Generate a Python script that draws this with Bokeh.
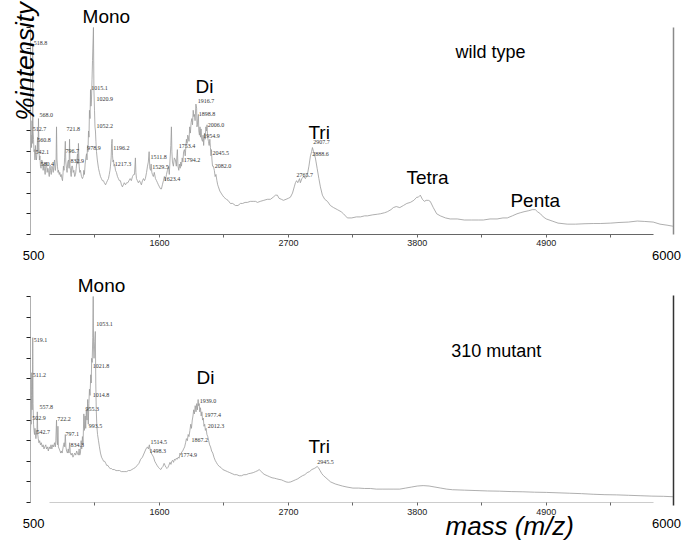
from bokeh.plotting import figure
from bokeh.models import Range1d, LinearAxis, FixedTicker, Label, LabelSet, ColumnDataSource
from bokeh.layouts import column
from bokeh.embed import file_html
from bokeh.resources import INLINE
import math

# ---------------- data: wild type ----------------
wt_mass = [500, 504, 509, 513, 516, 518.8, 522, 526, 530, 534, 538, 542, 546, 551, 556, 560, 564, 568, 572, 576,
           580, 585, 590, 596, 602, 608, 614, 619, 625, 630, 636, 642, 648, 653, 660, 666, 671, 677, 683, 688,
           694, 700, 705, 710, 713, 718, 722, 726, 730, 735, 739, 745, 750, 756, 762, 768, 773, 778, 781, 786,
           791, 797, 801, 807, 812, 818, 824, 829, 833, 837, 841, 847, 852, 858, 864, 870, 877, 884, 890, 896,
           901, 905, 909, 915, 920, 926, 935, 943, 950, 955, 960, 966, 972, 978, 982, 986, 990, 995, 999, 1003,
           1008, 1012, 1016, 1020, 1025, 1029, 1033, 1037, 1041, 1046, 1050, 1054, 1058, 1063, 1070, 1080, 1088, 1097, 1105, 1113,
           1122, 1130, 1140, 1148, 1156, 1165, 1172, 1178, 1182, 1188, 1192, 1196, 1200, 1204, 1208, 1213, 1217, 1225, 1233, 1242,
           1250, 1258, 1267, 1276, 1284, 1292, 1300, 1310, 1320, 1330, 1340, 1350, 1360, 1370, 1380, 1387, 1392, 1395, 1399, 1404,
           1412, 1420, 1430, 1438, 1446, 1455, 1464, 1472, 1480, 1490, 1498, 1505, 1512, 1518, 1524, 1529, 1535, 1540, 1548, 1556,
           1566, 1575, 1583, 1591, 1600, 1610, 1617, 1625, 1634, 1642, 1650, 1660, 1668, 1677, 1684, 1690, 1697, 1702, 1706, 1711,
           1719, 1727, 1736, 1744, 1749, 1753, 1758, 1765, 1770, 1777, 1782, 1788, 1794, 1800, 1806, 1813, 1820, 1826, 1830, 1836,
           1841, 1847, 1852, 1858, 1864, 1870, 1876, 1882, 1888, 1893, 1898, 1904, 1911, 1917, 1920, 1924, 1928, 1932, 1936, 1941,
           1946, 1950, 1955, 1960, 1967, 1972, 1977, 1984, 1990, 1996, 2001, 2006, 2011, 2018, 2024, 2030, 2035, 2040, 2043, 2048,
           2053, 2060, 2068, 2075, 2082, 2090, 2097, 2103, 2115, 2126, 2137, 2150, 2160, 2171, 2185, 2205, 2225, 2248, 2270, 2291,
           2310, 2330, 2350, 2375, 2400, 2420, 2436, 2460, 2490, 2520, 2547, 2570, 2590, 2606, 2620, 2640, 2657, 2680, 2700, 2717,
           2735, 2750, 2760, 2770, 2780, 2795, 2802, 2815, 2830, 2845, 2862, 2875, 2888, 2898, 2905, 2915, 2930, 2945, 2960, 2973,
           2990, 3010, 3033, 3058, 3085, 3118, 3150, 3170, 3203, 3240, 3280, 3314, 3350, 3374, 3420, 3460, 3484, 3520, 3544, 3575,
           3595, 3620, 3650, 3681, 3710, 3740, 3770, 3795, 3808, 3825, 3843, 3860, 3875, 3894, 3910, 3936, 3965, 3996, 4040, 4080,
           4141, 4200, 4260, 4320, 4363, 4420, 4480, 4530, 4567, 4610, 4650, 4678, 4710, 4750, 4780, 4806, 4825, 4850, 4874, 4900,
           4950, 5000, 5079, 5150, 5230, 5300, 5360, 5450, 5520, 5600, 5676, 5740, 5812, 5870, 5930, 5980]
wt_int = [45, 48, 42, 55, 44, 91, 50, 46, 40, 41, 36, 43, 38, 36, 40, 47, 40, 56, 42, 36,
          38, 33, 32, 36, 35, 31, 34, 32, 29, 33, 35, 30, 32, 31, 28, 33, 31, 29, 33, 32,
          30, 34, 36, 31, 31, 35, 52, 36, 33, 30, 31, 29, 30, 28, 29, 27, 26, 30, 33, 31,
          37, 45, 35, 32, 30, 35, 36, 32, 46, 33, 31, 28, 33, 33, 30, 31, 28, 29, 32, 36,
          39, 34, 44, 33, 30, 31, 28, 27, 28, 31, 29, 34, 37, 39, 36, 43, 40, 50, 47, 60,
          56, 70, 62, 65, 75, 84, 92, 100, 70, 60, 52, 50, 45, 40, 36, 32, 30, 28, 27, 26,
          26, 25, 24, 25, 26, 27, 29, 31, 33, 37, 44, 46, 38, 35, 36, 33, 34, 31, 30, 28,
          27, 26, 26, 24, 23, 24, 25, 24, 25, 25, 26, 27, 26, 28, 29, 29, 34, 37, 30, 27,
          26, 25, 26, 25, 24, 26, 27, 26, 27, 30, 33, 35, 40, 32, 31, 34, 30, 29, 28, 30,
          27, 26, 25, 24, 23, 22, 22, 24, 26, 28, 26, 29, 31, 33, 29, 36, 43, 52, 40, 35,
          33, 37, 36, 33, 38, 41, 33, 31, 34, 32, 35, 33, 37, 35, 40, 41, 38, 43, 46, 44,
          48, 47, 45, 52, 49, 54, 56, 53, 60, 57, 58, 55, 63, 61, 52, 53, 56, 58, 50, 48,
          52, 47, 51, 46, 45, 48, 43, 49, 46, 52, 50, 53, 47, 45, 43, 46, 42, 38, 41, 36,
          33, 33, 31, 28, 29, 26, 24, 23, 21, 20, 19, 18, 17.5, 17, 16.5, 15, 15, 14, 14, 15,
          15, 15.5, 15.5, 16, 16, 16, 15.5, 16, 16.5, 17, 17, 18, 19, 19, 17.5, 17, 16.5, 17, 17.5, 18,
          20, 23, 25, 26, 25, 27, 25, 27, 28, 27, 29, 33, 38, 40, 42, 40, 37, 32, 27, 23,
          19, 17, 16, 14, 13, 12, 11, 10, 8, 8, 8.5, 8.5, 9, 9, 9.5, 9.8, 10, 10.5, 11, 12,
          13, 13.5, 13, 14, 15, 15.5, 16.5, 18, 18, 19, 17, 16, 16.5, 16.5, 16, 13, 10, 9, 8, 7.5,
          7.5, 7, 7, 7, 7, 7.5, 7.5, 8, 8, 9, 10, 10.5, 11, 11.5, 12, 12, 11, 10, 8.5, 7.5,
          6.5, 5.5, 5, 5, 5.2, 5.3, 5.3, 5.5, 5.8, 6, 6.5, 6.3, 6, 5, 4.5, 4]

wt_peak_text = ["518.8", "568.0", "512.7", "721.8", "560.8", "542.1", "580.4", "796.7", "832.9", "978.9",
                "1015.1", "1020.9", "1052.2", "1196.2", "1217.3", "1511.8", "1529.5", "1623.4", "1753.4", "1794.2",
                "1916.7", "1898.8", "2006.0", "1954.9", "2045.5", "2082.0", "2765.7", "2907.7", "2888.6"]
wt_peak_x = [528, 577, 520, 807, 557, 543, 585, 799, 841, 984,
             1018, 1063, 1063, 1205, 1219, 1524, 1538, 1637, 1765, 1808,
             1927, 1936, 2012, 1973, 2052, 2072, 2769, 2911, 2903]
wt_peak_y = [92.4, 57.5, 51.1, 51.1, 45.7, 39.8, 34.2, 40.2, 35.3, 41.9,
             70.9, 65.4, 52.2, 41.9, 34.2, 37.3, 32.5, 26.9, 42.7, 36.2,
             64.3, 58.3, 52.7, 47.8, 39.5, 33.0, 28.8, 44.8, 39.0]

wt_groups = ["Mono", "Di", "Tri", "Tetra", "Penta"]
wt_group_x = [944, 1907, 2871, 3707, 4594]
wt_group_y = [105.3, 71.5, 49.3, 27.5, 16.4]

# ---------------- data: 310 mutant ----------------
mu_mass = [500, 503, 506, 509, 511, 514, 517, 519, 522, 526, 530, 534, 538, 542, 546, 551, 555, 558, 562, 566,
           572, 578, 585, 592, 600, 608, 615, 622, 630, 637, 645, 652, 660, 668, 675, 682, 690, 697, 705, 712,
           716, 722, 726, 730, 734, 738, 745, 752, 758, 764, 770, 776, 782, 787, 792, 797, 802, 808, 815, 822,
           828, 834, 840, 847, 855, 862, 870, 878, 886, 894, 900, 908, 915, 920, 926, 932, 937, 943, 948, 955,
           960, 966, 971, 976, 982, 988, 993, 998, 1003, 1008, 1014, 1018, 1022, 1026, 1031, 1035, 1038, 1042, 1048, 1053,
           1057, 1061, 1066, 1072, 1080, 1088, 1097, 1106, 1115, 1124, 1133, 1142, 1150, 1160, 1170, 1180, 1190, 1200, 1215, 1230,
           1245, 1260, 1275, 1290, 1305, 1320, 1335, 1350, 1365, 1380, 1395, 1410, 1425, 1440, 1455, 1470, 1485, 1498, 1506, 1514,
           1522, 1530, 1540, 1550, 1560, 1570, 1580, 1592, 1600, 1612, 1622, 1630, 1640, 1648, 1656, 1665, 1672, 1680, 1690, 1698,
           1705, 1712, 1720, 1728, 1736, 1744, 1752, 1760, 1768, 1775, 1782, 1790, 1798, 1806, 1815, 1823, 1830, 1838, 1845, 1852,
           1860, 1867, 1873, 1880, 1886, 1892, 1898, 1905, 1912, 1918, 1924, 1930, 1934, 1939, 1944, 1950, 1956, 1962, 1968, 1974,
           1980, 1986, 1992, 1998, 2005, 2012, 2020, 2028, 2036, 2045, 2055, 2065, 2075, 2085, 2095, 2110, 2125, 2140, 2160, 2180,
           2200, 2220, 2240, 2260, 2280, 2300, 2320, 2340, 2360, 2380, 2400, 2420, 2440, 2450, 2460, 2470, 2485, 2500, 2520, 2540,
           2560, 2580, 2600, 2620, 2640, 2660, 2680, 2700, 2720, 2740, 2760, 2780, 2800, 2820, 2840, 2860, 2880, 2900, 2920, 2935,
           2945, 2955, 2970, 2985, 3000, 3020, 3040, 3060, 3080, 3100, 3130, 3160, 3200, 3250, 3300, 3350, 3400, 3450, 3500, 3550,
           3600, 3650, 3700, 3750, 3800, 3850, 3900, 3950, 4000, 4050, 4100, 4200, 4300, 4400, 4500, 4600, 4700, 4800, 4900, 5000,
           5100, 5200, 5300, 5400, 5500, 5600, 5700, 5800, 5900, 5980]
mu_int = [34, 40, 38, 52, 63, 45, 55, 80, 48, 38, 35, 33, 36, 34, 31, 35, 33, 44, 33, 31,
          29, 30, 28, 29, 27, 28, 26, 27, 28, 26, 27, 25, 27, 26, 28, 26, 28, 27, 29, 27,
          30, 40, 30, 28, 37, 27, 26, 25, 24, 25, 24, 26, 28, 29, 27, 33, 27, 25, 24, 26,
          24, 29, 24, 23, 24, 22, 23, 24, 23, 25, 24, 23, 26, 23, 24, 30, 26, 32, 28, 43,
          35, 42, 36, 45, 40, 50, 38, 48, 55, 52, 62, 58, 70, 68, 80, 100, 75, 70, 78, 83,
          58, 45, 37, 33, 30, 27, 24, 22, 21, 20, 20, 19, 18, 18, 17, 16.5, 16.5, 16, 16, 15.5,
          15.5, 15.5, 15, 15, 15, 15, 15.5, 15.5, 16, 16.5, 17, 18, 19, 21, 22, 24, 26, 27, 26, 28,
          25, 24, 23, 22, 20, 19, 18, 17, 16.5, 16, 17, 17.5, 19, 18, 17, 16.5, 17, 18, 19.5, 18.5,
          20, 20.5, 19.5, 21, 20.5, 21.5, 21, 22, 21.5, 24, 23, 24.5, 25, 26, 27, 29, 31, 30, 33, 32,
          35, 38, 36, 40, 42, 45, 43, 47, 44, 48, 45, 50, 47, 48, 44, 46, 42, 44, 40, 41,
          37, 38, 35, 36, 33, 32, 30, 28, 27, 25, 24, 22, 20.5, 19.5, 18.5, 17.5, 17, 16, 15.5, 15,
          14.5, 14, 13.5, 13.5, 13, 13, 13.5, 13.5, 14, 14.2, 14.5, 15, 15.5, 16, 15.5, 15, 14, 13.5, 13, 12.5,
          12, 11.8, 11.5, 11.2, 11, 10.5, 10, 9.8, 10, 10.5, 11, 11.5, 12.3, 13, 13.5, 14.5, 15, 16, 16.5, 17,
          17.5, 17, 15.5, 14, 13, 12, 11, 10, 9.5, 9, 8.5, 8, 7.5, 7, 7, 6.8, 6.8, 6.5, 6.5, 6.5,
          6.5, 6.5, 7, 7.5, 8, 8.2, 8, 7.5, 7, 6.5, 6.2, 6, 5.8, 5.6, 5.5, 5.3, 5.2, 5, 4.9, 4.7,
          4.5, 4.3, 4, 3.8, 3.7, 3.5, 3.3, 3.1, 3, 2.8]

mu_peak_text = ["1053.1", "519.1", "511.2", "1021.8", "1014.8", "557.8", "955.3", "502.9", "722.2", "993.5",
                "542.7", "797.1", "834.3", "1514.5", "1498.3", "1939.0", "1977.4", "2012.3", "1867.2", "1774.9",
                "2945.5"]
mu_peak_x = [1060, 528, 520, 1031, 1031, 577, 969, 514, 728, 997,
             551, 799, 841, 1524, 1515, 1944, 1984, 2012, 1873, 1780,
             2946]
mu_peak_y = [86.7, 79.0, 62.1, 66.2, 52.3, 46.3, 45.5, 41.1, 40.6, 37.0,
             34.1, 33.3, 28.0, 29.6, 24.8, 49.2, 42.6, 36.9, 30.1, 23.2,
             19.9]

mu_groups = ["Mono", "Di", "Tri"]
mu_group_x = [903, 1916, 2871]
mu_group_y = [105.3, 60.8, 27.3]

x_major = [1600, 2700, 3800, 4900]
x_minor = [1050, 2150, 3250, 4350, 5450]
y_ticks = [0, 10, 20, 30, 40, 50, 60, 70, 80, 90, 100]
x_end_labels = ["500", "6000"]
x_end_pos = [526, 5925]

FONT = "Liberation Sans"
X_LO, X_HI = 244.1, 6087.4      # visible m/z extent across the page
X_AXIS_MIN, X_AXIS_MAX = 500, 5985


def panel(h, ylo, yhi, mass, inten, ptext, px, py, gtext, gx, gy, title, tx, ty,
          xaxis_color, right_color, right_bounds, end_y):
    p = figure(width=685, height=h, x_range=Range1d(X_LO, X_HI), y_range=Range1d(ylo, yhi),
               output_backend="svg", toolbar_location=None, min_border=0,
               min_border_left=0, min_border_right=0, min_border_top=0, min_border_bottom=0)
    p.grid.visible = False
    p.outline_line_color = None
    p.background_fill_color = "white"
    p.border_fill_color = "white"

    xa = p.xaxis[0]
    xa.fixed_location = 0
    xa.bounds = (662, 5814)
    xa.ticker = FixedTicker(ticks=x_major, minor_ticks=x_minor)
    xa.axis_line_color = xaxis_color
    xa.axis_line_width = 1.2
    xa.major_tick_line_color = "#666666"
    xa.minor_tick_line_color = "#666666"
    xa.major_tick_in = 0
    xa.major_tick_out = 3
    xa.minor_tick_in = 0
    xa.minor_tick_out = 3
    xa.major_label_standoff = 3
    xa.major_label_text_font = FONT
    xa.major_label_text_font_size = "9px"
    xa.major_label_text_color = "#222222"

    ya = p.yaxis[0]
    ya.fixed_location = X_AXIS_MIN
    ya.bounds = (0, 100)
    ya.ticker = FixedTicker(ticks=y_ticks, minor_ticks=[])
    ya.axis_line_color = "#b0b0b0"
    ya.major_tick_line_color = "#222222"
    ya.major_tick_in = 0
    ya.major_tick_out = 4
    ya.major_label_text_font_size = "0px"
    ya.major_label_overrides = {t: "" for t in y_ticks}

    ra = LinearAxis(ticker=FixedTicker(ticks=[], minor_ticks=[]), fixed_location=X_AXIS_MAX,
                    bounds=right_bounds, axis_line_color=right_color, axis_line_width=1.5,
                    major_label_text_font_size="0px",
                    major_tick_line_color=None, minor_tick_line_color=None)
    p.add_layout(ra, "right")

    p.line(mass, inten, line_color="#9a9a9a", line_width=0.8)

    src = ColumnDataSource(dict(x=px, y=py, t=ptext))
    p.add_layout(LabelSet(x="x", y="y", text="t", source=src, text_font=FONT,
                          text_font_size="6px", text_color="#333333",
                          text_align="left", text_baseline="middle"))

    for g, x, y in zip(gtext, gx, gy):
        p.add_layout(Label(x=x, y=y, text=g, text_font=FONT, text_font_size="19px",
                           text_color="black", text_align="left", text_baseline="alphabetic"))
    p.add_layout(Label(x=tx, y=ty, text=title, text_font=FONT, text_font_size="18px",
                       text_color="black", text_align="left", text_baseline="alphabetic"))

    for lab, x in zip(x_end_labels, x_end_pos):
        p.add_layout(Label(x=x, y=end_y, text=lab, text_font=FONT, text_font_size="13px",
                           text_color="black", text_align="center", text_baseline="alphabetic"))
    return p


p1 = panel(262, -13.53, 113.04, wt_mass, wt_int, wt_peak_text, wt_peak_x, wt_peak_y,
           wt_groups, wt_group_x, wt_group_y, "wild type", 4125, 88.4,
           "#666666", "#8a8a8a", (0, 100), -10.1)
p1.add_layout(Label(x=449, y=55.1, text="%intensity", angle=math.pi / 2, text_font=FONT,
                    text_font_style="italic", text_font_size="26px", text_color="black",
                    text_align="left", text_baseline="alphabetic"))

p2 = panel(279, -18.93, 116.5, mu_mass, mu_int, mu_peak_text, mu_peak_x, mu_peak_y,
           mu_groups, mu_group_x, mu_group_y, "310 mutant", 4089, 73.4,
           "#cccccc", "#333333", (-1.5, 100.5), -10.2)
p2.add_layout(Label(x=4040, y=-11.4, text="mass (m/z)", text_font=FONT,
                    text_font_style="italic", text_font_size="26px", text_color="black",
                    text_align="left", text_baseline="alphabetic"))

layout = column(p1, p2, spacing=0)
open("out.html", "w").write(file_html(layout, INLINE))
